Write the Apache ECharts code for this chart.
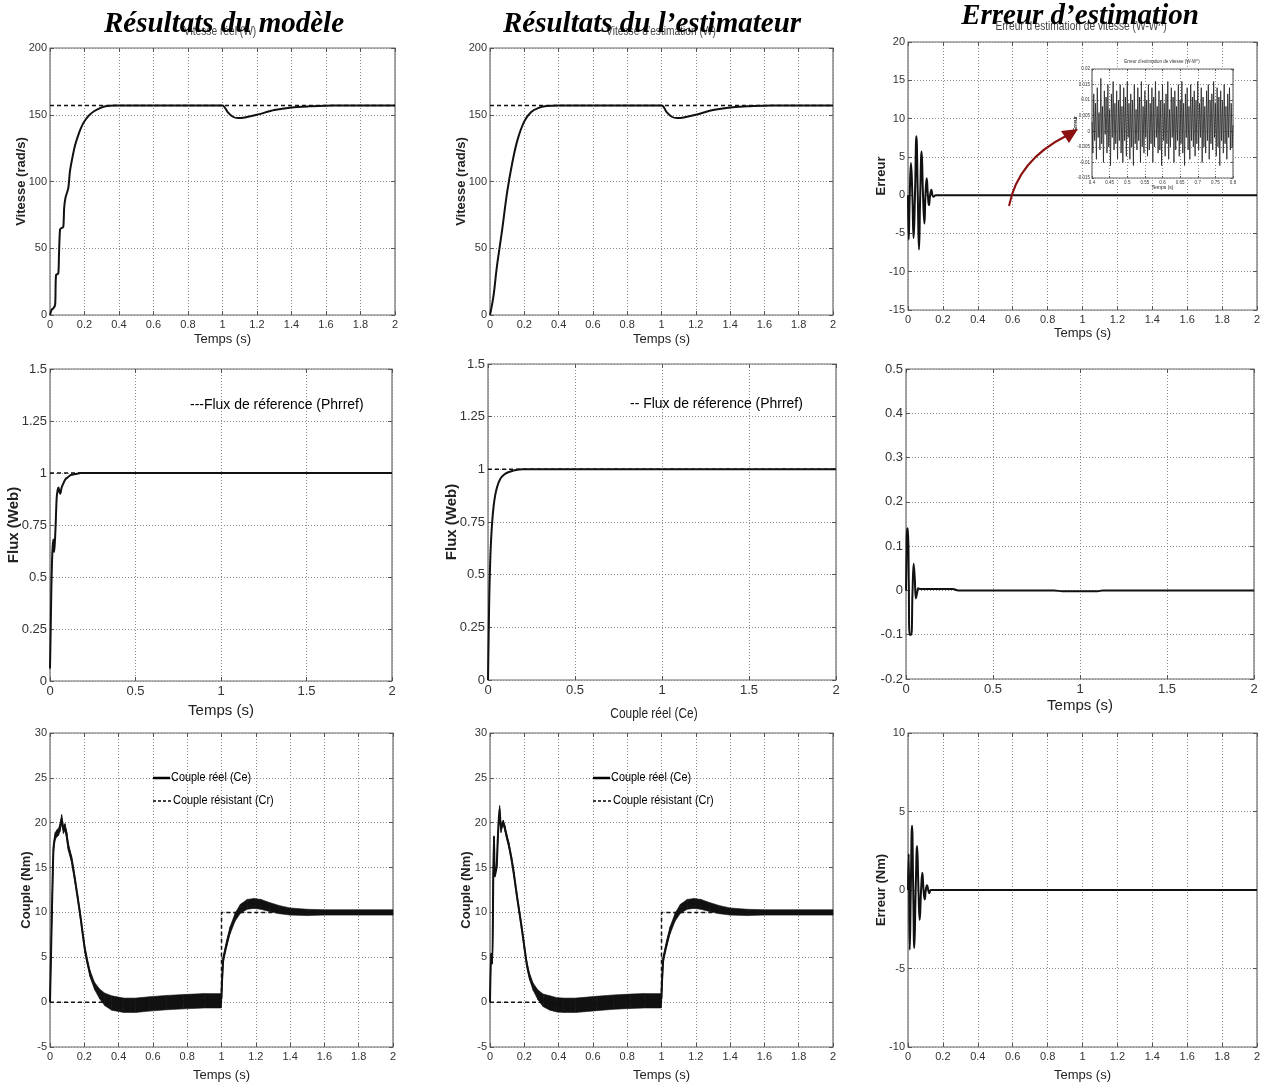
<!DOCTYPE html>
<html>
<head>
<meta charset="utf-8">
<script src="https://cdn.jsdelivr.net/npm/echarts@6/dist/echarts.min.js"></script>
<style>
html,body{margin:0;padding:0;background:#fff}
#c{width:1270px;height:1086px}
</style>
</head>
<body>
<div id="c"></div>
<script>
// ---------- data ----------
// speed reference (rad/s)
const vitesseRef = 157;

// real speed of the model
const tVitModele = [0, 0.01, 0.02, 0.03, 0.035, 0.048, 0.052, 0.058, 0.065, 0.077, 0.082, 0.09, 0.106, 0.116, 0.13, 0.145, 0.17, 0.19, 0.21, 0.23, 0.26, 0.29, 0.33, 0.37, 0.45, 1.0, 1.03, 1.06, 1.09, 1.13, 1.2, 1.3, 1.4, 1.5, 1.64, 2.0];
const vitModele  = [0, 4, 5, 8, 30, 31, 45, 64, 65, 66, 80, 88, 95, 108, 118, 127, 137, 143, 147, 150, 153, 155, 156.5, 157, 157, 157, 152, 148.5, 147.5, 148, 150, 153.5, 155.5, 156.3, 157, 157];

// estimated speed
const tVitEstim = [0, 0.02, 0.04, 0.07, 0.1, 0.13, 0.16, 0.2, 0.24, 0.28, 0.33, 0.4, 1.0, 1.03, 1.06, 1.09, 1.13, 1.2, 1.3, 1.4, 1.5, 1.64, 2.0];
const vitEstim  = [0, 14, 36, 63, 92, 114, 131, 145, 152, 155, 156.5, 157, 157, 152, 148.5, 147.5, 148, 150, 153.5, 155.5, 156.3, 157, 157];

// speed estimation error
const tErrVit = [0, 0.004, 0.01, 0.017, 0.025, 0.032, 0.04, 0.048, 0.056, 0.063, 0.07, 0.078, 0.086, 0.094, 0.1, 0.107, 0.114, 0.12, 0.127, 0.134, 0.14, 0.147, 0.16, 0.2, 2.0];
const errVit  = [0, -5.8, 0, 4.2, 0, -5.6, 0, 7.7, 0, -7.1, 0, 5.7, 0, -3.7, 0, 2.2, 0, -1.3, 0, 0.7, 0, -0.2, 0, 0, 0];

// zoomed speed error, 0.4 s .. 0.8 s, one sample every zoomDt
const zoomT0 = 0.4, zoomDt = 0.0025;
const errVitZoom = [
  0.003,-0.007,0.012,-0.003,0.009,-0.009,0.014,-0.002,0.006,-0.006,
  0.017,-0.004,0.008,-0.010,0.013,-0.001,0.011,-0.007,0.015,-0.005,
  0.007,-0.011,0.012,-0.002,0.016,-0.006,0.009,-0.004,0.013,-0.009,
  0.010,-0.003,0.015,-0.007,0.008,-0.010,0.014,-0.003,0.011,-0.008,
  0.016,-0.002,0.009,-0.009,0.012,-0.005,0.010,-0.011,0.015,-0.004,
  0.007,-0.006,0.014,-0.003,0.011,-0.010,0.016,-0.005,0.008,-0.007,
  0.013,-0.002,0.010,-0.008,0.015,-0.006,0.009,-0.004,0.014,-0.010,
  0.011,-0.005,0.016,-0.002,0.008,-0.007,0.013,-0.006,0.010,-0.011,
  0.015,-0.003,0.009,-0.008,0.012,-0.004,0.016,-0.009,0.007,-0.005,
  0.014,-0.002,0.011,-0.010,0.013,-0.006,0.008,-0.003,0.015,-0.008,
  0.010,-0.004,0.016,-0.007,0.009,-0.011,0.012,-0.002,0.014,-0.006,
  0.008,-0.009,0.015,-0.003,0.011,-0.005,0.013,-0.008,0.010,-0.004,
  0.016,-0.006,0.009,-0.002,0.014,-0.010,0.011,-0.005,0.008,-0.007,
  0.013,-0.003,0.015,-0.009,0.010,-0.004,0.012,-0.006,0.016,-0.002,
  0.009,-0.008,0.014,-0.005,0.011,-0.011,0.013,-0.003,0.010,-0.007,
  0.015,-0.004,0.008,-0.009,0.012,-0.002,0.014,-0.006,0.009,-0.005,0.002
];

// rotor flux (Web)
const fluxRef = 1;
const tFluxModele = [0, 0.003, 0.008, 0.012, 0.016, 0.02, 0.024, 0.028, 0.033, 0.039, 0.045, 0.05, 0.055, 0.06, 0.068, 0.078, 0.09, 0.105, 0.12, 0.15, 0.18, 0.22, 2.0];
const fluxModele  = [0.06, 0.2, 0.45, 0.58, 0.65, 0.68, 0.62, 0.66, 0.75, 0.88, 0.92, 0.93, 0.91, 0.9, 0.93, 0.95, 0.97, 0.98, 0.99, 0.995, 1.0, 1.0, 1.0];
const tFluxEstim = [0, 0.004, 0.008, 0.013, 0.018, 0.025, 0.033, 0.042, 0.052, 0.065, 0.08, 0.1, 0.13, 0.16, 0.2, 2.0];
const fluxEstim  = [0, 0.22, 0.42, 0.57, 0.67, 0.76, 0.83, 0.88, 0.915, 0.945, 0.965, 0.98, 0.99, 0.997, 1.0, 1.0];
const tErrFlux = [0, 0.003, 0.006, 0.011, 0.016, 0.021, 0.03, 0.037, 0.044, 0.05, 0.057, 0.064, 0.07, 0.08, 0.27, 0.3, 0.85, 0.9, 1.1, 1.13, 2.0];
const errFlux  = [0, 0.08, 0.14, 0.14, 0.02, -0.1, -0.1, -0.01, 0.06, 0.03, -0.018, -0.005, 0.005, 0.003, 0.003, 0, 0, -0.002, -0.002, 0, 0];

// load torque (Nm)
const tCr = [0, 1, 1, 2];
const cr  = [0, 0, 10, 10];

// electromagnetic torque of the model: mean curve and ripple half-width
const tCeModele = [0, 0.01, 0.02, 0.03, 0.04, 0.05, 0.058, 0.068, 0.078, 0.088, 0.098, 0.107, 0.126, 0.146, 0.175, 0.204, 0.233, 0.26, 0.29, 0.32, 0.36, 0.43, 0.5, 0.58, 0.68, 0.78, 0.9, 0.998, 1.0, 1.01, 1.03, 1.05, 1.08, 1.11, 1.15, 1.19, 1.23, 1.28, 1.34, 1.4, 1.5, 1.6, 1.8, 2.0];
const ceModele  = [0, 9, 17, 18.5, 18.8, 19, 19.4, 20.5, 19.2, 19.5, 18.5, 17.3, 15.9, 13.6, 9.9, 5.8, 3.2, 1.8, 0.9, 0.3, -0.1, -0.35, -0.35, -0.2, -0.05, 0.05, 0.15, 0.15, 0.15, 4.7, 6.5, 8.0, 9.5, 10.4, 10.9, 11.0, 10.9, 10.6, 10.3, 10.1, 10.0, 10.0, 10.0, 10.0];
const ceModeleRipple = [0, 0.1, 0.3, 0.4, 0.4, 0.4, 0.4, 0.4, 0.4, 0.4, 0.4, 0.4, 0.35, 0.3, 0.3, 0.3, 0.35, 0.4, 0.55, 0.7, 0.8, 0.8, 0.8, 0.8, 0.8, 0.8, 0.8, 0.8, 0.3, 0.3, 0.35, 0.4, 0.45, 0.5, 0.55, 0.55, 0.55, 0.5, 0.45, 0.4, 0.35, 0.3, 0.3, 0.3];

// electromagnetic torque of the estimator
const tCeEstim = [0, 0.006, 0.01, 0.014, 0.019, 0.023, 0.028, 0.033, 0.039, 0.045, 0.05, 0.056, 0.064, 0.071, 0.078, 0.088, 0.097, 0.11, 0.126, 0.14, 0.155, 0.17, 0.184, 0.2, 0.214, 0.23, 0.252, 0.28, 0.31, 0.35, 0.39, 0.43, 0.5, 0.62, 0.72, 0.82, 0.9, 0.998, 1.0, 1.01, 1.03, 1.05, 1.08, 1.11, 1.15, 1.19, 1.23, 1.28, 1.34, 1.4, 1.5, 1.6, 1.8, 2.0];
const ceEstim  = [0, 5.4, 4.5, 4.3, 14, 18.5, 14, 14.5, 15.1, 18, 20, 21.6, 19.2, 19.8, 20, 19.3, 18.5, 17.5, 15.9, 14.2, 12.1, 10.2, 8.4, 6.2, 4.3, 2.9, 1.7, 0.8, 0.2, -0.1, -0.3, -0.35, -0.35, -0.15, 0, 0.1, 0.15, 0.15, 0.15, 4.7, 6.5, 8.0, 9.5, 10.4, 10.9, 11.0, 10.9, 10.6, 10.3, 10.1, 10.0, 10.0, 10.0, 10.0];
const ceEstimRipple = [0, 0, 0, 0, 0, 0, 0, 0, 0.1, 0.2, 0.3, 0.3, 0.3, 0.3, 0.3, 0.3, 0.3, 0.3, 0.3, 0.3, 0.3, 0.3, 0.3, 0.3, 0.3, 0.35, 0.4, 0.55, 0.7, 0.8, 0.8, 0.8, 0.8, 0.8, 0.8, 0.8, 0.8, 0.8, 0.3, 0.3, 0.35, 0.4, 0.45, 0.5, 0.55, 0.55, 0.55, 0.5, 0.45, 0.4, 0.35, 0.3, 0.3, 0.3];

// torque estimation error
const tErrCe = [0, 0.004, 0.01, 0.016, 0.023, 0.03, 0.036, 0.044, 0.052, 0.06, 0.067, 0.075, 0.082, 0.089, 0.096, 0.102, 0.109, 0.116, 0.122, 0.13, 0.136, 0.15, 2.0];
const errCe  = [0, 2.3, -3.8, 0, 4.1, 0, -3.7, 0, 2.8, 0, -1.9, 0, 1.1, 0, -0.6, 0, 0.3, 0, -0.2, 0, 0, 0, 0];

// ---------- helpers ----------
const SANS = "'Liberation Sans',Arial,sans-serif";
const SERIF = "'Liberation Serif','Times New Roman',serif";
const zip = (t, v) => t.map((x, i) => [x, v[i]]);

const grids = [], xAxes = [], yAxes = [], series = [];

function panel(c) {
  const gi = grids.length;
  const z = c.z || 0;
  grids.push({
    left: c.box[0], top: c.box[1], width: c.box[2], height: c.box[3],
    show: true, backgroundColor: '#fff', borderColor: '#6a6a6a', borderWidth: 1.2, z: z
  });
  const tick = { inside: true, length: c.tickLen || 4, lineStyle: { color: '#555', width: 1 } };
  const lab = { fontFamily: SANS, fontSize: c.tick, color: '#333' };
  const split = { show: true, lineStyle: { type: [1, 2], color: '#8a8a8a', width: 1 } };
  const noLine = { show: false, onZero: false };
  const xi = xAxes.length, yi = yAxes.length;
  xAxes.push({
    gridIndex: gi, type: 'value', position: 'bottom', z: z,
    min: c.x[0], max: c.x[1], interval: c.x[2],
    axisLine: noLine, axisTick: tick,
    axisLabel: Object.assign({ margin: c.xMargin || 4 }, lab),
    splitLine: split,
    name: c.xName || '', nameLocation: 'middle', nameGap: c.xGap || 18, nameMoveOverlap: false,
    nameTextStyle: { fontFamily: SANS, fontSize: c.xNameSize || 13, color: '#222' }
  });
  xAxes.push({
    gridIndex: gi, type: 'value', position: 'top', z: z,
    min: c.x[0], max: c.x[1], interval: c.x[2],
    axisLine: noLine, axisTick: tick, axisLabel: { show: false }, splitLine: { show: false }
  });
  yAxes.push({
    gridIndex: gi, type: 'value', position: 'left', z: z,
    min: c.y[0], max: c.y[1], interval: c.y[2],
    axisLine: noLine, axisTick: tick,
    axisLabel: Object.assign({ margin: c.yMargin || 3 }, lab),
    splitLine: split,
    name: c.yName || '', nameLocation: 'middle', nameRotate: 90, nameGap: c.yGap || 20, nameMoveOverlap: false,
    nameTextStyle: { fontFamily: SANS, fontWeight: 'bold', fontSize: c.yNameSize || 13, color: '#222' }
  });
  yAxes.push({
    gridIndex: gi, type: 'value', position: 'right', z: z,
    min: c.y[0], max: c.y[1], interval: c.y[2],
    axisLine: noLine, axisTick: tick, axisLabel: { show: false }, splitLine: { show: false }
  });
  return { xAxisIndex: xi, yAxisIndex: yi, z: z };
}

function line(ax, data, opt) {
  opt = opt || {};
  series.push({
    type: 'line', xAxisIndex: ax.xAxisIndex, yAxisIndex: ax.yAxisIndex,
    data: data, showSymbol: false, symbol: 'none', silent: true,
    smooth: opt.smooth || false, z: ax.z + 2,
    lineStyle: { color: opt.color || '#111', width: opt.width || 2, type: opt.dash ? [4, 3] : 'solid' }
  });
}

// ripple band: one quadrilateral per interval, between mean - ripple and mean + ripple
function band(ax, t, mean, ripple) {
  const data = [];
  for (let i = 0; i < t.length - 1; i++) {
    data.push([t[i], mean[i] - ripple[i], mean[i] + ripple[i],
               t[i + 1], mean[i + 1] - ripple[i + 1], mean[i + 1] + ripple[i + 1]]);
  }
  series.push({
    type: 'custom', xAxisIndex: ax.xAxisIndex, yAxisIndex: ax.yAxisIndex,
    silent: true, z: ax.z + 2, data: data,
    encode: { x: [0, 3], y: [1, 2, 4, 5] },
    renderItem: function (params, api) {
      const a = api.coord([api.value(0), api.value(1)]);
      const b = api.coord([api.value(3), api.value(4)]);
      const c = api.coord([api.value(3), api.value(5)]);
      const d = api.coord([api.value(0), api.value(2)]);
      return { type: 'polygon', shape: { points: [a, b, c, d] },
        style: { fill: '#111', stroke: '#111', lineWidth: 0.6 } };
    }
  });
}

// ---------- panels ----------
// row 1: speed
const p1 = panel({ box: [50, 48, 345, 267], x: [0, 2, 0.2], y: [0, 200, 50], tick: 11,
  xName: 'Temps (s)', xGap: 18, yName: 'Vitesse (rad/s)', yGap: 22 });
line(p1, [[0, vitesseRef], [2, vitesseRef]], { dash: true, width: 1.5 });
line(p1, zip(tVitModele, vitModele), { smooth: 0.25 });

const p2 = panel({ box: [490, 48, 343, 267], x: [0, 2, 0.2], y: [0, 200, 50], tick: 11,
  xName: 'Temps (s)', xGap: 18, yName: 'Vitesse (rad/s)', yGap: 22 });
line(p2, [[0, vitesseRef], [2, vitesseRef]], { dash: true, width: 1.5 });
line(p2, zip(tVitEstim, vitEstim), { smooth: 0.35 });

const p3 = panel({ box: [908, 42, 349, 268], x: [0, 2, 0.2], y: [-15, 20, 5], tick: 11,
  xName: 'Temps (s)', xGap: 17, yName: 'Erreur', yGap: 20 });
line(p3, zip(tErrVit, errVit), { smooth: 0.5 });

// zoomed window of the speed error
const pz = panel({ box: [1092, 69, 141, 109], x: [0.4, 0.8, 0.05], y: [-0.015, 0.02, 0.005], tick: 4.5,
  tickLen: 2, xName: 'Temps (s)', xGap: 7, xNameSize: 5, xMargin: 2, yName: 'Erreur', yGap: 14, yNameSize: 5, yMargin: 2, z: 5 });
line(pz, errVitZoom.map((v, i) => [zoomT0 + i * zoomDt, v]), { width: 0.8, color: '#222' });

// row 2: flux
const p4 = panel({ box: [50, 369, 342, 312], x: [0, 2, 0.5], y: [0, 1.5, 0.25], tick: 13,
  xName: 'Temps (s)', xGap: 22, xNameSize: 15, yName: 'Flux (Web)', yGap: 29, yNameSize: 15 });
line(p4, [[0, fluxRef], [2, fluxRef]], { dash: true, width: 1.5 });
line(p4, zip(tFluxModele, fluxModele), { smooth: 0.2 });

const p5 = panel({ box: [488, 364, 348, 316], x: [0, 2, 0.5], y: [0, 1.5, 0.25], tick: 13,
  yName: 'Flux (Web)', yGap: 29, yNameSize: 15 });
line(p5, [[0, fluxRef], [2, fluxRef]], { dash: true, width: 1.5 });
line(p5, zip(tFluxEstim, fluxEstim), { smooth: 0.35 });

const p6 = panel({ box: [906, 369, 348, 310], x: [0, 2, 0.5], y: [-0.2, 0.5, 0.1], tick: 13,
  xName: 'Temps (s)', xGap: 19, xNameSize: 15 });
line(p6, zip(tErrFlux, errFlux), { smooth: 0.4 });

// row 3: torque
const p7 = panel({ box: [50, 733, 343, 314], x: [0, 2, 0.2], y: [-5, 30, 5], tick: 11,
  xName: 'Temps (s)', xGap: 22, yName: 'Couple (Nm)', yGap: 17 });
line(p7, zip(tCr, cr), { dash: true, width: 1.5 });
band(p7, tCeModele, ceModele, ceModeleRipple);
line(p7, zip(tCeModele, ceModele), { smooth: 0.2 });

const p8 = panel({ box: [490, 733, 343, 314], x: [0, 2, 0.2], y: [-5, 30, 5], tick: 11,
  xName: 'Temps (s)', xGap: 22, yName: 'Couple (Nm)', yGap: 17 });
line(p8, zip(tCr, cr), { dash: true, width: 1.5 });
band(p8, tCeEstim, ceEstim, ceEstimRipple);
line(p8, zip(tCeEstim, ceEstim), { smooth: 0.2 });

const p9 = panel({ box: [908, 733, 349, 314], x: [0, 2, 0.2], y: [-10, 10, 5], tick: 11,
  xName: 'Temps (s)', xGap: 22, yName: 'Erreur (Nm)', yGap: 20 });
line(p9, zip(tErrCe, errCe), { smooth: 0.5 });

// ---------- texts, legends, arrow ----------
function text(x, y, s, font, opt) {
  opt = opt || {};
  return { type: 'text', x: x, y: y, z: opt.z || 20, silent: true, scaleX: opt.sx || 1,
    style: { text: s, font: font, fill: opt.fill || '#000',
      textAlign: opt.align || 'center', textVerticalAlign: 'middle' } };
}
const graphics = [
  // plot titles
  text(220, 32, 'Vitesse réel (W)', '12px ' + SANS, { fill: '#444', z: 15, sx: 0.85 }),
  text(661, 32, 'Vitesse d’estimation (W)', '12px ' + SANS, { fill: '#444', z: 15, sx: 0.85 }),
  text(1081, 27, 'Erreur d’estimation de vitesse (W-W^)', '12px ' + SANS, { fill: '#444', z: 15, sx: 0.85 }),
  text(1162, 62, 'Erreur d’estimation de vitesse (W-W^)', '4.5px ' + SANS, { fill: '#333', z: 15 }),
  // column headers
  text(224, 25, 'Résultats du modèle', 'italic bold 29px ' + SERIF),
  text(652, 25, 'Résultats du l’estimateur', 'italic bold 29px ' + SERIF),
  text(1080, 17, 'Erreur d’estimation', 'italic bold 29px ' + SERIF),
  // flux legends
  text(190, 405, '---Flux de réference (Phrref)', '15px ' + SANS, { align: 'left', sx: 0.93 }),
  text(630, 404, '-- Flux de réference (Phrref)', '15px ' + SANS, { align: 'left', sx: 0.93 }),
  // title of the estimator torque plot
  text(654, 714, 'Couple réel (Ce)', '14px ' + SANS, { fill: '#222', sx: 0.85 }),
  // torque legends
  { type: 'line', z: 20, silent: true, shape: { x1: 153, y1: 778, x2: 170, y2: 778 }, style: { stroke: '#000', lineWidth: 2.5 } },
  text(171, 777, 'Couple réel (Ce)', '13px ' + SANS, { align: 'left', sx: 0.84 }),
  { type: 'line', z: 20, silent: true, shape: { x1: 153, y1: 801, x2: 172, y2: 801 }, style: { stroke: '#000', lineWidth: 1.5, lineDash: [3, 2] } },
  text(173, 800, 'Couple résistant (Cr)', '13px ' + SANS, { align: 'left', sx: 0.84 }),
  { type: 'line', z: 20, silent: true, shape: { x1: 593, y1: 778, x2: 610, y2: 778 }, style: { stroke: '#000', lineWidth: 2.5 } },
  text(611, 777, 'Couple réel (Ce)', '13px ' + SANS, { align: 'left', sx: 0.84 }),
  { type: 'line', z: 20, silent: true, shape: { x1: 593, y1: 801, x2: 612, y2: 801 }, style: { stroke: '#000', lineWidth: 1.5, lineDash: [3, 2] } },
  text(613, 800, 'Couple résistant (Cr)', '13px ' + SANS, { align: 'left', sx: 0.84 }),
  // arrow pointing to the zoomed window
  { type: 'bezierCurve', z: 20, silent: true,
    shape: { x1: 1009, y1: 206, x2: 1066, y2: 136, cpx1: 1018, cpy1: 160 },
    style: { stroke: '#8b1010', lineWidth: 2, fill: null } },
  { type: 'polygon', z: 20, silent: true,
    shape: { points: [[1078, 129], [1061, 131], [1069, 143]] },
    style: { fill: '#8b1010' } }
];

const chart = echarts.init(document.getElementById('c'), null, { renderer: 'canvas' });
chart.setOption({
  animation: false,
  backgroundColor: '#fff',
  grid: grids,
  xAxis: xAxes,
  yAxis: yAxes,
  series: series,
  graphic: graphics
});
</script>
</body>
</html>
